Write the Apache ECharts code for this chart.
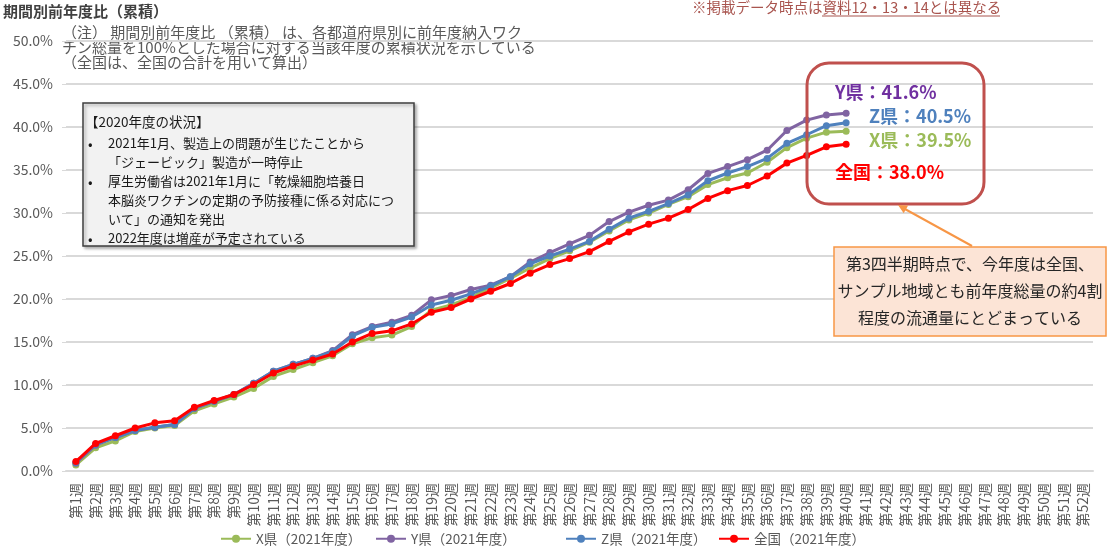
<!DOCTYPE html>
<html><head><meta charset="utf-8">
<script src="https://cdn.jsdelivr.net/npm/echarts@6/dist/echarts.min.js"></script>
<style>html,body{margin:0;padding:0;background:#fff}#c{width:1108px;height:558px}</style>
</head><body><div id="c"></div>
<script>
var weeks = [];
for (var i = 1; i <= 52; i++) weeks.push('第' + i + '週');
var yTicks = [0, 5, 10, 15, 20, 25, 30, 35, 40, 45, 50];
var seriesNames = ['X県（2021年度）', 'Y県（2021年度）', 'Z県（2021年度）', '全国（2021年度）'];
var xPref = [0.7, 2.7, 3.5, 4.6, 5.0, 5.3, 7.0, 7.8, 8.6, 9.6, 11.0, 11.8, 12.6, 13.4, 14.8, 15.5, 15.8, 16.8, 18.7, 19.3,
  20.2, 21.3, 22.4, 23.6, 24.7, 25.6, 26.6, 27.9, 29.2, 30.0, 31.0, 31.9, 33.3, 34.1, 34.65, 35.9, 37.6, 38.7, 39.4, 39.5];
var yPref = [0.9, 3.0, 3.9, 4.7, 5.1, 5.4, 7.3, 8.1, 8.9, 10.2, 11.6, 12.4, 13.1, 14.0, 15.85, 16.8, 17.3, 18.1, 19.9, 20.4,
  21.1, 21.6, 22.6, 24.3, 25.4, 26.4, 27.4, 29.0, 30.1, 30.9, 31.5, 32.7, 34.6, 35.4, 36.2, 37.3, 39.6, 40.8, 41.4, 41.6];
var zPref = [1.0, 3.1, 3.9, 4.7, 5.1, 5.4, 7.3, 8.1, 8.9, 10.2, 11.6, 12.4, 13.1, 13.9, 15.7, 16.7, 17.1, 17.9, 19.3, 19.85,
  20.6, 21.5, 22.6, 24.1, 25.0, 25.8, 26.7, 28.1, 29.4, 30.2, 31.1, 32.1, 33.75, 34.65, 35.4, 36.35, 38.1, 39.1, 40.15, 40.5];
var nation = [1.1, 3.2, 4.1, 5.0, 5.6, 5.85, 7.4, 8.2, 8.9, 10.05, 11.4, 12.2, 12.9, 13.6, 15.0, 16.0, 16.3, 17.1, 18.45, 19.0,
  20.0, 20.9, 21.8, 23.0, 24.0, 24.7, 25.5, 26.7, 27.8, 28.7, 29.4, 30.4, 31.7, 32.6, 33.2, 34.3, 35.8, 36.7, 37.7, 38.0];

var FONT = '"Noto Sans CJK JP", "Noto Sans", sans-serif';
var colors = ['#9BBB59', '#8064A2', '#4F81BD', '#FF0000'];
var datas = [xPref, yPref, zPref, nation];
var legendLefts = [215, 370, 560, 713];

function mk(i) {
  return {
    name: seriesNames[i], type: 'line', data: datas[i],
    symbol: 'circle', symbolSize: 7, z: 2 + i,
    itemStyle: {color: colors[i]},
    lineStyle: {color: colors[i], width: 3},
    emphasis: {disabled: true}, animation: false
  };
}
function last(a) { return a[a.length - 1].toFixed(1); }
function lg(i) {
  return {
    data: [seriesNames[i]], left: legendLefts[i], top: 527, itemWidth: 30, itemHeight: 10, itemGap: 0,
    textStyle: {fontSize: 13.5, color: '#595959', fontFamily: FONT}
  };
}

var chart = echarts.init(document.getElementById('c'));
chart.setOption({
  animation: false,
  textStyle: {fontFamily: FONT},
  grid: {left: 66, right: 15, top: 41, bottom: 87, containLabel: false},
  xAxis: {
    type: 'category', data: weeks, boundaryGap: true,
    axisLine: {lineStyle: {color: '#d9d9d9', width: 2}},
    axisTick: {show: false},
    axisLabel: {rotate: 90, interval: 0, fontSize: 14, color: '#595959', margin: 12, fontFamily: FONT}
  },
  yAxis: {
    type: 'value', min: yTicks[0], max: yTicks[yTicks.length - 1], interval: 5,
    axisLine: {show: false},
    axisTick: {show: true, length: 4, lineStyle: {color: '#d9d9d9'}},
    splitLine: {lineStyle: {color: '#d9d9d9', width: 2}},
    axisLabel: {fontSize: 14, color: '#595959', margin: 13, fontFamily: FONT,
      formatter: function (v) { return v.toFixed(1) + '%'; }}
  },
  legend: [lg(0), lg(1), lg(2), lg(3)],
  series: [mk(0), mk(1), mk(2), mk(3)],
  graphic: [
    {type: 'text', left: 3, top: 4, style: {text: '期間別前年度比（累積）', font: 'bold 15px ' + FONT, fill: '#404040'}},
    {type: 'text', left: 62, top: 25, style: {text: '（注） 期間別前年度比 （累積） は、各都道府県別に前年度納入ワク\nチン総量を100%とした場合に対する当該年度の累積状況を示している\n（全国は、全国の合計を用いて算出）', font: '15px ' + FONT, fill: '#595959', lineHeight: 15}},
    {type: 'text', left: 692, top: 0, style: {text: '※掲載データ時点は資料12・13・14とは異なる', font: '14.5px ' + FONT, fill: '#A9554F'}},
    {type: 'line', shape: {x1: 822, y1: 16, x2: 1000, y2: 16}, style: {stroke: '#A9554F', lineWidth: 1}},
    {type: 'rect', shape: {x: 83, y: 103, width: 331, height: 143}, style: {fill: '#F2F2F2', stroke: '#3f3f3f', lineWidth: 1.5, shadowBlur: 3, shadowOffsetX: 2, shadowOffsetY: 2, shadowColor: 'rgba(0,0,0,0.3)'}, z: 10},
    {type: 'text', left: 85, top: 115, z: 11, style: {text: '【2020年度の状況】', font: '13.5px ' + FONT, fill: '#1a1a1a'}},
    {type: 'text', left: 88, top: 134, z: 11, style: {text: '•\n\n•\n\n\n•', font: '13.5px ' + FONT, fill: '#1a1a1a', lineHeight: 19}},
    {type: 'text', left: 108, top: 134, z: 11, style: {text: '2021年1月、製造上の問題が生じたことから\n「ジェービック」製造が一時停止\n厚生労働省は2021年1月に「乾燥細胞培養日\n本脳炎ワクチンの定期の予防接種に係る対応につ\nいて」の通知を発出\n2022年度は増産が予定されている', font: '13px ' + FONT, fill: '#1a1a1a', lineHeight: 19}},
    {type: 'rect', shape: {x: 807, y: 63, width: 177, height: 141, r: 22}, style: {fill: 'rgba(0,0,0,0)', stroke: '#C0504D', lineWidth: 3}, z: 10},
    {type: 'text', left: 835, top: 83, z: 11, style: {text: 'Y県：' + last(yPref) + '%', font: 'bold 18px ' + FONT, fill: '#7030A0'}},
    {type: 'text', left: 869, top: 107, z: 11, style: {text: 'Z県：' + last(zPref) + '%', font: 'bold 18px ' + FONT, fill: '#4F81BD'}},
    {type: 'text', left: 869, top: 131, z: 11, style: {text: 'X県：' + last(xPref) + '%', font: 'bold 18px ' + FONT, fill: '#9BBB59'}},
    {type: 'text', left: 835, top: 163, z: 11, style: {text: '全国：' + last(nation) + '%', font: 'bold 18px ' + FONT, fill: '#FF0000'}},
    {type: 'line', shape: {x1: 972, y1: 246, x2: 904, y2: 208.5}, style: {stroke: '#F79646', lineWidth: 2}, z: 10},
    {type: 'polygon', shape: {points: [[898, 205], [908.1, 205.4], [903.7, 213.3]]}, style: {fill: '#F79646'}, z: 10},
    {type: 'rect', shape: {x: 834, y: 247, width: 272, height: 89}, style: {fill: '#FCE4D6', stroke: '#F79646', lineWidth: 1.5}, z: 10},
    {type: 'text', x: 970, y: 291, z: 11, style: {text: '第3四半期時点で、今年度は全国、\nサンプル地域とも前年度総量の約4割\n程度の流通量にとどまっている', font: '16px ' + FONT, fill: '#262626', align: 'center', verticalAlign: 'middle', lineHeight: 27}}
  ]
});
</script>
</body></html>
